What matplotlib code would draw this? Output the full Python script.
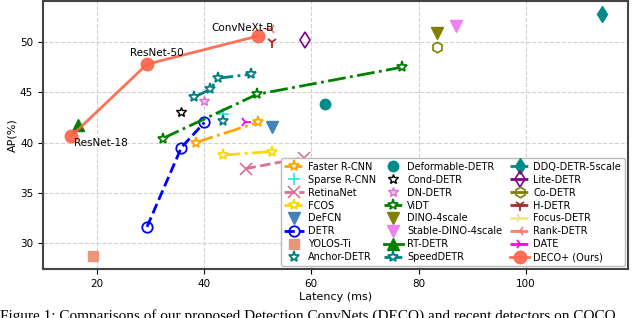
import numpy as np
import matplotlib
matplotlib.use('Agg')
from matplotlib import pyplot as plt

# latency (ms) / AP (%)
faster_x = [38.5, 50.0]; faster_y = [40.0, 42.0]
sparse_x = [43.5]; sparse_y = [42.8]
retina_x = [47.8, 58.7]; retina_y = [37.4, 38.5]
fcos_x = [43.5, 52.7]; fcos_y = [38.75, 39.1]
defcn_x = [52.7]; defcn_y = [41.5]
detr_x = [29.4, 35.8, 40.1]; detr_y = [31.6, 39.5, 42.0]
yolos_x = [19.3]; yolos_y = [28.7]
anchor_x = [43.5]; anchor_y = [42.1]
deform_x = [62.5]; deform_y = [43.8]
cond_x = [35.7]; cond_y = [43.0]
dn_x = [40.1]; dn_y = [44.1]
vidt_x = [32.3, 49.9, 76.9]; vidt_y = [40.4, 44.8, 47.5]
dino_x = [83.4]; dino_y = [50.95]
sdino_x = [87.0]; sdino_y = [51.6]
rt_x = [16.6]; rt_y = [41.7]
speed_x = [38.1, 41.2, 42.6, 48.8]; speed_y = [44.5, 45.3, 46.4, 46.8]
ddq_x = [114.1]; ddq_y = [52.8]
lite_x = [58.75]; lite_y = [50.2]
co_x = [83.4]; co_y = [49.5]
hdetr_x = [52.7]; hdetr_y = [50.0]
focus_x = []; focus_y = []
rank_x = [52.6]; rank_y = [51.3]
date_x = [47.7]; date_y = [42.0]
deco_x = [15.2, 29.4, 50.0]; deco_y = [40.6, 47.8, 50.6]
deco_names = ['ResNet-18', 'ResNet-50', 'ConvNeXt-B']

plt.rcParams['font.family'] = 'DejaVu Sans'
fig = plt.figure(figsize=(6.4, 3.18), dpi=100)
ax = fig.add_axes([0.067, 0.154, 0.914, 0.843])

ax.plot(faster_x, faster_y, '-.', color='orange', marker='*', ms=8, mfc='white', mew=1.3, lw=2, label='Faster R-CNN')
ax.plot(sparse_x, sparse_y, ls='none', color='#22e5f0', marker='+', ms=9, mew=1.2, label='Sparse R-CNN')
ax.plot(retina_x, retina_y, '--', color='palevioletred', marker='x', ms=8, mew=1.2, lw=2, label='RetinaNet')
ax.plot(fcos_x, fcos_y, '-.', color='gold', marker='*', ms=8, mfc='white', mew=1.3, lw=2, label='FCOS')
ax.plot(defcn_x, defcn_y, ls='none', color='steelblue', marker='v', ms=8, label='DeFCN')
ax.plot(detr_x, detr_y, '--', color='blue', marker='o', ms=7.5, mfc='none', mew=1.3, lw=2, label='DETR')
ax.plot(yolos_x, yolos_y, ls='none', color='darksalmon', marker='s', ms=7.5, label='YOLOS-Ti')
ax.plot(anchor_x, anchor_y, ls='none', color='teal', marker='*', ms=8, mfc='white', mew=1.3, label='Anchor-DETR')
ax.plot(deform_x, deform_y, ls='none', color='darkcyan', marker='o', ms=7.5, label='Deformable-DETR')
ax.plot(cond_x, cond_y, ls='none', color='black', marker='*', ms=7.5, mfc='white', mew=1.0, label='Cond-DETR')
ax.plot(dn_x, dn_y, ls='none', color='orchid', marker='*', ms=7.5, mfc='#f3c0f3', mew=1.0, label='DN-DETR')
ax.plot(vidt_x, vidt_y, '-.', color='green', marker='*', ms=8, mfc='white', mew=1.3, lw=2, label='ViDT')
ax.plot(dino_x, dino_y, ls='none', color='olive', marker='v', ms=8, label='DINO-4scale')
ax.plot(sdino_x, sdino_y, ls='none', color='violet', marker='v', ms=8, label='Stable-DINO-4scale')
ax.plot(rt_x, rt_y, '-', color='green', marker='^', ms=8, lw=2, label='RT-DETR')
ax.plot(speed_x, speed_y, '-.', color='teal', marker='*', ms=8, mfc='white', mew=1.3, lw=2, label='SpeedDETR')
ax.plot(ddq_x, ddq_y, '-.', color='darkcyan', marker='d', ms=8, lw=2, label='DDQ-DETR-5scale')
ax.plot(lite_x, lite_y, '-.', color='purple', marker='d', ms=8, mfc='none', mew=1.2, lw=2, label='Lite-DETR')
ax.plot(co_x, co_y, '-.', color='olive', marker='h', ms=7.5, mfc='none', mew=1.2, lw=2, label='Co-DETR')
ax.plot(hdetr_x, hdetr_y, '-.', color='brown', marker='1', ms=8, mew=1.3, lw=2, label='H-DETR')
ax.plot(focus_x, focus_y, '-.', color='khaki', marker='4', ms=8, mew=1.3, lw=2, label='Focus-DETR')
ax.plot(rank_x, rank_y, '-.', color='salmon', marker='3', ms=8, mew=1.3, lw=2, label='Rank-DETR')
ax.plot(date_x, date_y, '-.', color='magenta', marker='4', ms=8, mew=1.3, lw=2, label='DATE')
ax.plot(deco_x, deco_y, '-', color='tomato', marker='o', ms=9, alpha=0.9, lw=2, label='DECO+ (Ours)')

offsets = [(2, -5), (7, 8), (-11, 6)]
aligns = ['left', 'center', 'center']
for name, x, y, off, ha in zip(deco_names, deco_x, deco_y, offsets, aligns):
    ax.annotate(name, (x, y), xytext=off, textcoords='offset points',
                ha=ha, va='center', fontsize=7.5)

ax.set_xlim(10, 119)
ax.set_ylim(27.4, 54.1)
ax.set_xticks([20, 40, 60, 80, 100])
ax.set_yticks([30, 35, 40, 45, 50])
ax.tick_params(labelsize=7.5)
ax.grid(True, ls='--', color='#d0d0d0', lw=0.8)
for s in ax.spines.values():
    s.set_color('#444444')
    s.set_linewidth(1.5)
ax.set_xlabel('Latency (ms)', fontsize=8, labelpad=2)
ax.set_ylabel('AP(%)', fontsize=8, labelpad=2)

ax.legend(ncol=3, loc='lower right', fontsize=7.0, borderaxespad=0.3,
          handlelength=2.0, columnspacing=0.8, labelspacing=0.3,
          handletextpad=0.4, framealpha=1, edgecolor='#bbbbbb')

fig.text(0.0, 0.027, 'Figure 1: Comparisons of our proposed Detection ConvNets (DECO) and recent detectors on COCO',
         family='Liberation Serif', fontsize=11, ha='left', va='top')

fig.savefig('out.png', dpi=100)
